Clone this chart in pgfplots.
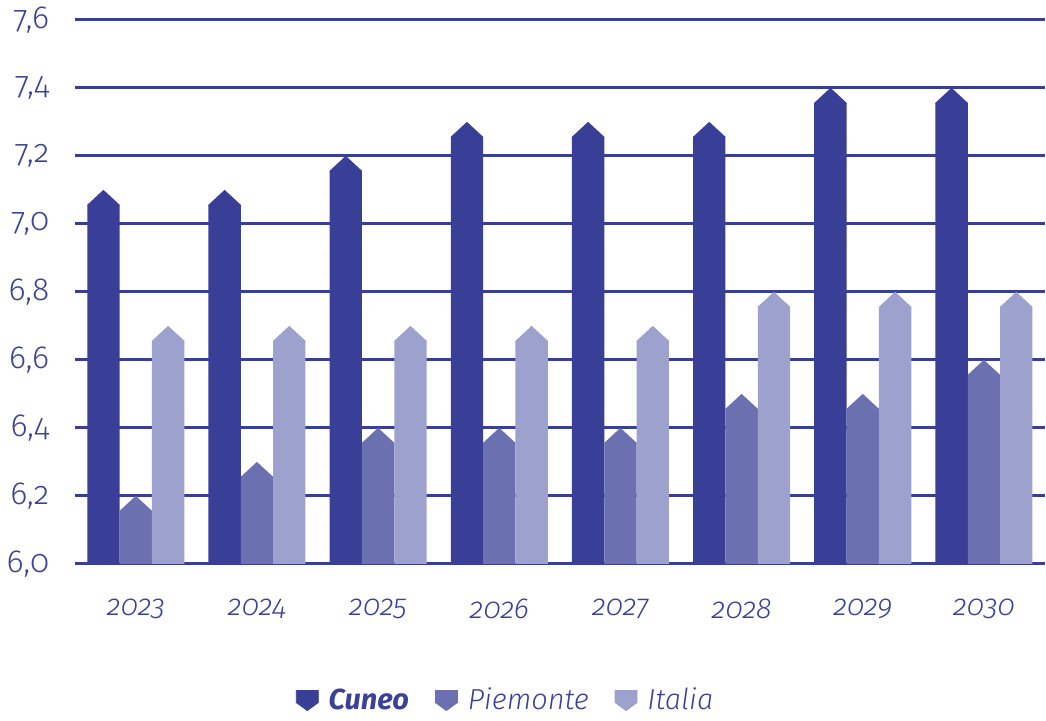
\documentclass[border=0pt]{standalone}
\usepackage{pgfplots}
\usepackage{pgfplotstable}
\pgfplotsset{compat=1.18}
\usepackage{fontspec}
\setmainfont{Fira Sans}[Numbers=OldStyle, UprightFont=* Light, ItalicFont=* Light Italic, BoldFont=* Bold, BoldItalicFont=* Bold Italic]
\definecolor{cuneo}{RGB}{57,63,151}
\definecolor{piem}{RGB}{107,112,176}
\definecolor{ital}{RGB}{157,161,206}
\definecolor{txt}{RGB}{60,65,152}
\pgfdeclareplotmark{cap}{%
  \pgfpathmoveto{\pgfpoint{-8.1pt}{-0.4pt}}%
  \pgfpathlineto{\pgfpoint{-8.1pt}{0pt}}%
  \pgfpathlineto{\pgfpoint{0pt}{7.5pt}}%
  \pgfpathlineto{\pgfpoint{8.1pt}{0pt}}%
  \pgfpathlineto{\pgfpoint{8.1pt}{-0.4pt}}%
  \pgfpathclose\pgfusepathqfill}
\pgfplotstableread{
i cuneo piemonte italia
0 7.1 6.2 6.7
1 7.1 6.3 6.7
2 7.2 6.4 6.7
3 7.3 6.4 6.7
4 7.3 6.4 6.7
5 7.3 6.5 6.8
6 7.4 6.5 6.8
7 7.4 6.6 6.8
}\data
\begin{document}
\begin{tikzpicture}
\begin{axis}[
  scale only axis,
  width=485.5pt, height=272.5pt,
  xmin=-0.5, xmax=7.5,
  ymin=6.0, ymax=7.6,
  ytick={6.0,6.2,...,7.6},
  xtick={0,...,7},
  xticklabels={2023,2024,2025,2026,2027,2028,2029,2030},
  axis line style={draw=none},
  major tick length=0pt,
  ymajorgrids,
  major grid style={line width=1.5pt, color=cuneo},
  /pgf/number format/.cd, use comma, fixed, fixed zerofill, precision=1, assume math mode=true,
  /pgfplots/.cd,
  yticklabel style={font=\fontsize{16}{18}\selectfont, text=txt, xshift=-9.5pt},
  xticklabel style={font=\fontsize{14.5}{16}\selectfont\itshape, text=txt, yshift=-14pt},
  legend style={draw=none, at={(0.445,-0.213)}, anchor=north, font=\fontsize{14.5}{16}\selectfont\itshape, text=txt, /tikz/every odd column/.append style={column sep=3pt}, /tikz/every even column/.append style={column sep=11pt}},
  legend columns=3,
  legend cell align=left,
]
\addplot[ybar, bar width=0.267, bar shift=0pt, fill=cuneo, draw=none, forget plot] table[x expr=\thisrow{i}-0.267, y expr=\thisrow{cuneo}-0.044]{\data};
\addplot[ybar, bar width=0.267, bar shift=0pt, fill=piem, draw=none, forget plot] table[x expr=\thisrow{i}, y expr=\thisrow{piemonte}-0.044]{\data};
\addplot[ybar, bar width=0.267, bar shift=0pt, fill=ital, draw=none, forget plot] table[x expr=\thisrow{i}+0.267, y expr=\thisrow{italia}-0.044]{\data};
\addplot[only marks, mark=cap, color=cuneo, forget plot] table[x expr=\thisrow{i}-0.267, y expr=\thisrow{cuneo}-0.044]{\data};
\addplot[only marks, mark=cap, color=piem, forget plot] table[x expr=\thisrow{i}, y expr=\thisrow{piemonte}-0.044]{\data};
\addplot[only marks, mark=cap, color=ital, forget plot] table[x expr=\thisrow{i}+0.267, y expr=\thisrow{italia}-0.044]{\data};
\addlegendimage{legend image code/.code={\fill[cuneo] (0pt,5pt) -- (11pt,5pt) -- (11pt,-1pt) -- (5.5pt,-5pt) -- (0pt,-1pt) -- cycle;}}
\addlegendentry{\textbf{Cuneo}}
\addlegendimage{legend image code/.code={\fill[piem] (0pt,5pt) -- (11pt,5pt) -- (11pt,-1pt) -- (5.5pt,-5pt) -- (0pt,-1pt) -- cycle;}}
\addlegendentry{Piemonte}
\addlegendimage{legend image code/.code={\fill[ital] (0pt,5pt) -- (11pt,5pt) -- (11pt,-1pt) -- (5.5pt,-5pt) -- (0pt,-1pt) -- cycle;}}
\addlegendentry{Italia}
\end{axis}
\end{tikzpicture}
\end{document}
